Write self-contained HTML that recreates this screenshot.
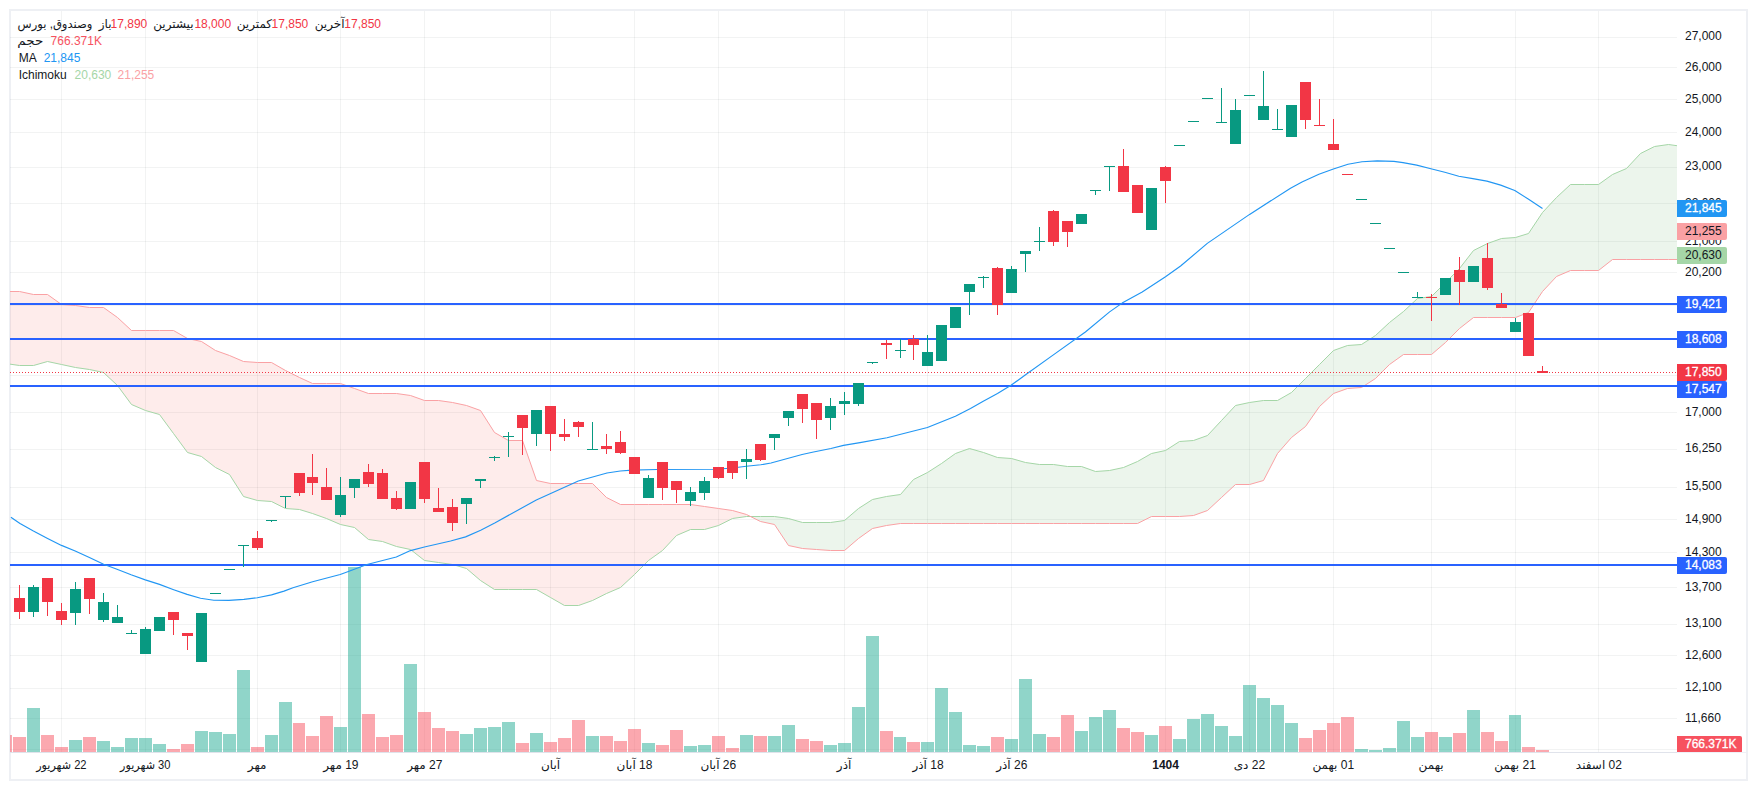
<!DOCTYPE html>
<html lang="fa"><head><meta charset="utf-8"><title>Chart</title>
<style>
html,body{margin:0;padding:0;background:#fff;}
body{width:1757px;height:790px;position:relative;overflow:hidden;font-family:"Liberation Sans","DejaVu Sans",sans-serif;}
.frame{position:absolute;left:9px;top:9px;width:1735px;height:768px;border:2px solid #eef0f4;}
</style></head><body>
<div class="frame"></div>
<svg width="1757" height="790" viewBox="0 0 1757 790" style="position:absolute;left:0;top:0">
<defs><clipPath id="pane"><rect x="10" y="11" width="1667" height="741"/></clipPath></defs>
<g shape-rendering="crispEdges" fill="rgba(42,46,57,0.06)">
<rect x="61" y="11" width="1" height="741"/>
<rect x="145" y="11" width="1" height="741"/>
<rect x="257" y="11" width="1" height="741"/>
<rect x="340" y="11" width="1" height="741"/>
<rect x="424" y="11" width="1" height="741"/>
<rect x="550" y="11" width="1" height="741"/>
<rect x="634" y="11" width="1" height="741"/>
<rect x="718" y="11" width="1" height="741"/>
<rect x="844" y="11" width="1" height="741"/>
<rect x="927" y="11" width="1" height="741"/>
<rect x="1011" y="11" width="1" height="741"/>
<rect x="1165" y="11" width="1" height="741"/>
<rect x="1249" y="11" width="1" height="741"/>
<rect x="1333" y="11" width="1" height="741"/>
<rect x="1431" y="11" width="1" height="741"/>
<rect x="1515" y="11" width="1" height="741"/>
<rect x="1598" y="11" width="1" height="741"/>
<rect x="10" y="37" width="1667" height="1"/>
<rect x="10" y="67" width="1667" height="1"/>
<rect x="10" y="99" width="1667" height="1"/>
<rect x="10" y="132" width="1667" height="1"/>
<rect x="10" y="167" width="1667" height="1"/>
<rect x="10" y="203" width="1667" height="1"/>
<rect x="10" y="241" width="1667" height="1"/>
<rect x="10" y="272" width="1667" height="1"/>
<rect x="10" y="305" width="1667" height="1"/>
<rect x="10" y="339" width="1667" height="1"/>
<rect x="10" y="375" width="1667" height="1"/>
<rect x="10" y="412" width="1667" height="1"/>
<rect x="10" y="449" width="1667" height="1"/>
<rect x="10" y="487" width="1667" height="1"/>
<rect x="10" y="519" width="1667" height="1"/>
<rect x="10" y="552" width="1667" height="1"/>
<rect x="10" y="587" width="1667" height="1"/>
<rect x="10" y="624" width="1667" height="1"/>
<rect x="10" y="655" width="1667" height="1"/>
<rect x="10" y="688" width="1667" height="1"/>
<rect x="10" y="718" width="1667" height="1"/>
<rect x="10" y="749" width="1667" height="1"/>
</g>
<g clip-path="url(#pane)">
<polygon points="5.5,363.5 19.5,365.5 33.5,365.5 47.5,361.5 61.5,364.5 75.5,367.5 89.5,369.5 103.5,372.5 117.5,385.5 131.5,404.5 145.5,410.5 159.5,414.5 173.5,433.5 187.5,452.5 201.5,456.5 215.5,467.5 229.5,474.5 243.5,496.5 257.5,500.5 271.5,501.5 285.5,508.5 299.5,509.5 312.5,513.5 326.5,518.5 340.5,524.5 354.5,527.5 368.5,539.5 382.5,541.5 396.5,546.5 410.5,549.5 424.5,560.5 438.5,562.5 452.5,564.5 466.5,568.5 480.5,580.5 494.5,589.5 508.5,589.5 522.5,589.5 536.5,589.5 550.5,597.5 564.5,605.5 578.5,605.5 592.5,600.5 606.5,593.5 620.5,587.5 634.5,574.5 648.5,560.5 662.5,550.5 676.5,535.5 690.5,529.5 704.5,529.5 718.5,525.5 732.5,518.5 746.5,516.5 750.5,516.5 746.5,514.5 732.5,510.5 718.5,508.5 704.5,506.5 690.5,504.5 676.5,504.5 662.5,504.5 648.5,504.5 634.5,504.5 620.5,504.5 606.5,497.5 592.5,483.5 578.5,483.5 564.5,483.5 550.5,483.5 536.5,480.5 522.5,440.5 508.5,440.5 494.5,432.5 480.5,410.5 466.5,405.5 452.5,402.5 438.5,400.5 424.5,400.5 410.5,395.5 396.5,393.5 382.5,393.5 368.5,393.5 354.5,388.5 340.5,383.5 326.5,383.5 312.5,383.5 299.5,377.5 285.5,370.5 271.5,362.5 257.5,362.5 243.5,361.5 229.5,355.5 215.5,350.5 201.5,341.5 187.5,338.5 173.5,330.5 159.5,330.5 145.5,330.5 131.5,330.5 117.5,317.5 103.5,307.5 89.5,307.5 75.5,305.5 61.5,304.5 47.5,294.5 33.5,294.5 19.5,291.5 5.5,291.5" fill="rgba(244,67,54,0.1)"/>
<polygon points="750.5,516.5 760.5,516.5 774.5,516.5 788.5,518.5 802.5,522.5 816.5,522.5 830.5,522.5 844.5,520.5 858.5,508.5 872.5,499.5 886.5,496.5 900.5,494.5 913.5,479.5 927.5,472.5 941.5,463.5 955.5,453.5 969.5,448.5 983.5,452.5 997.5,457.5 1011.5,458.5 1025.5,462.5 1039.5,464.5 1053.5,464.5 1067.5,466.5 1081.5,466.5 1095.5,471.5 1109.5,470.5 1123.5,467.5 1137.5,461.5 1151.5,453.5 1165.5,450.5 1179.5,441.5 1193.5,440.5 1207.5,435.5 1221.5,420.5 1235.5,405.5 1249.5,402.5 1263.5,400.5 1277.5,400.5 1291.5,392.5 1305.5,378.5 1319.5,364.5 1333.5,350.5 1347.5,345.5 1361.5,344.5 1375.5,335.5 1389.5,322.5 1403.5,311.5 1417.5,298.5 1431.5,296.5 1445.5,282.5 1459.5,268.5 1473.5,250.5 1487.5,243.5 1501.5,238.5 1515.5,237.5 1528.5,233.5 1542.5,212.5 1556.5,197.5 1570.5,184.5 1584.5,184.5 1598.5,184.5 1612.5,174.5 1626.5,168.5 1640.5,153.5 1654.5,146.5 1668.5,144.5 1682.5,146.5 1682.5,259.5 1668.5,259.5 1654.5,259.5 1640.5,259.5 1626.5,259.5 1612.5,259.5 1598.5,270.5 1584.5,270.5 1570.5,270.5 1556.5,276.5 1542.5,291.5 1528.5,312.5 1515.5,317.5 1501.5,317.5 1487.5,317.5 1473.5,317.5 1459.5,328.5 1445.5,342.5 1431.5,354.5 1417.5,354.5 1403.5,354.5 1389.5,364.5 1375.5,378.5 1361.5,387.5 1347.5,388.5 1333.5,393.5 1319.5,406.5 1305.5,426.5 1291.5,437.5 1277.5,453.5 1263.5,480.5 1249.5,484.5 1235.5,484.5 1221.5,497.5 1207.5,510.5 1193.5,515.5 1179.5,516.5 1165.5,516.5 1151.5,516.5 1137.5,523.5 1123.5,523.5 1109.5,523.5 1095.5,523.5 1081.5,523.5 1067.5,523.5 1053.5,523.5 1039.5,523.5 1025.5,523.5 1011.5,523.5 997.5,523.5 983.5,523.5 969.5,523.5 955.5,523.5 941.5,523.5 927.5,523.5 913.5,523.5 900.5,523.5 886.5,525.5 872.5,528.5 858.5,538.5 844.5,550.5 830.5,550.5 816.5,549.5 802.5,548.5 788.5,545.5 774.5,524.5 760.5,521.5" fill="rgba(67,160,71,0.1)"/>
<polyline points="5.5,363.5 19.5,365.5 33.5,365.5 47.5,361.5 61.5,364.5 75.5,367.5 89.5,369.5 103.5,372.5 117.5,385.5 131.5,404.5 145.5,410.5 159.5,414.5 173.5,433.5 187.5,452.5 201.5,456.5 215.5,467.5 229.5,474.5 243.5,496.5 257.5,500.5 271.5,501.5 285.5,508.5 299.5,509.5 312.5,513.5 326.5,518.5 340.5,524.5 354.5,527.5 368.5,539.5 382.5,541.5 396.5,546.5 410.5,549.5 424.5,560.5 438.5,562.5 452.5,564.5 466.5,568.5 480.5,580.5 494.5,589.5 508.5,589.5 522.5,589.5 536.5,589.5 550.5,597.5 564.5,605.5 578.5,605.5 592.5,600.5 606.5,593.5 620.5,587.5 634.5,574.5 648.5,560.5 662.5,550.5 676.5,535.5 690.5,529.5 704.5,529.5 718.5,525.5 732.5,518.5 746.5,516.5 760.5,516.5 774.5,516.5 788.5,518.5 802.5,522.5 816.5,522.5 830.5,522.5 844.5,520.5 858.5,508.5 872.5,499.5 886.5,496.5 900.5,494.5 913.5,479.5 927.5,472.5 941.5,463.5 955.5,453.5 969.5,448.5 983.5,452.5 997.5,457.5 1011.5,458.5 1025.5,462.5 1039.5,464.5 1053.5,464.5 1067.5,466.5 1081.5,466.5 1095.5,471.5 1109.5,470.5 1123.5,467.5 1137.5,461.5 1151.5,453.5 1165.5,450.5 1179.5,441.5 1193.5,440.5 1207.5,435.5 1221.5,420.5 1235.5,405.5 1249.5,402.5 1263.5,400.5 1277.5,400.5 1291.5,392.5 1305.5,378.5 1319.5,364.5 1333.5,350.5 1347.5,345.5 1361.5,344.5 1375.5,335.5 1389.5,322.5 1403.5,311.5 1417.5,298.5 1431.5,296.5 1445.5,282.5 1459.5,268.5 1473.5,250.5 1487.5,243.5 1501.5,238.5 1515.5,237.5 1528.5,233.5 1542.5,212.5 1556.5,197.5 1570.5,184.5 1584.5,184.5 1598.5,184.5 1612.5,174.5 1626.5,168.5 1640.5,153.5 1654.5,146.5 1668.5,144.5 1682.5,146.5" fill="none" stroke="#a5d6a7" stroke-width="1"/>
<polyline points="5.5,291.5 19.5,291.5 33.5,294.5 47.5,294.5 61.5,304.5 75.5,305.5 89.5,307.5 103.5,307.5 117.5,317.5 131.5,330.5 145.5,330.5 159.5,330.5 173.5,330.5 187.5,338.5 201.5,341.5 215.5,350.5 229.5,355.5 243.5,361.5 257.5,362.5 271.5,362.5 285.5,370.5 299.5,377.5 312.5,383.5 326.5,383.5 340.5,383.5 354.5,388.5 368.5,393.5 382.5,393.5 396.5,393.5 410.5,395.5 424.5,400.5 438.5,400.5 452.5,402.5 466.5,405.5 480.5,410.5 494.5,432.5 508.5,440.5 522.5,440.5 536.5,480.5 550.5,483.5 564.5,483.5 578.5,483.5 592.5,483.5 606.5,497.5 620.5,504.5 634.5,504.5 648.5,504.5 662.5,504.5 676.5,504.5 690.5,504.5 704.5,506.5 718.5,508.5 732.5,510.5 746.5,514.5 760.5,521.5 774.5,524.5 788.5,545.5 802.5,548.5 816.5,549.5 830.5,550.5 844.5,550.5 858.5,538.5 872.5,528.5 886.5,525.5 900.5,523.5 913.5,523.5 927.5,523.5 941.5,523.5 955.5,523.5 969.5,523.5 983.5,523.5 997.5,523.5 1011.5,523.5 1025.5,523.5 1039.5,523.5 1053.5,523.5 1067.5,523.5 1081.5,523.5 1095.5,523.5 1109.5,523.5 1123.5,523.5 1137.5,523.5 1151.5,516.5 1165.5,516.5 1179.5,516.5 1193.5,515.5 1207.5,510.5 1221.5,497.5 1235.5,484.5 1249.5,484.5 1263.5,480.5 1277.5,453.5 1291.5,437.5 1305.5,426.5 1319.5,406.5 1333.5,393.5 1347.5,388.5 1361.5,387.5 1375.5,378.5 1389.5,364.5 1403.5,354.5 1417.5,354.5 1431.5,354.5 1445.5,342.5 1459.5,328.5 1473.5,317.5 1487.5,317.5 1501.5,317.5 1515.5,317.5 1528.5,312.5 1542.5,291.5 1556.5,276.5 1570.5,270.5 1584.5,270.5 1598.5,270.5 1612.5,259.5 1626.5,259.5 1640.5,259.5 1654.5,259.5 1668.5,259.5 1682.5,259.5" fill="none" stroke="#faa1a4" stroke-width="1"/>
<g shape-rendering="crispEdges" fill="#2962ff">
<rect x="10" y="303" width="1667" height="2"/>
<rect x="10" y="338" width="1667" height="2"/>
<rect x="10" y="385" width="1667" height="2"/>
<rect x="10" y="564" width="1667" height="2"/>
</g>
<g shape-rendering="crispEdges">
<rect x="-1" y="735" width="13" height="17" fill="rgba(247,82,95,0.5)"/>
<rect x="13" y="737" width="13" height="15" fill="rgba(247,82,95,0.5)"/>
<rect x="27" y="708" width="13" height="44" fill="rgba(34,171,148,0.5)"/>
<rect x="41" y="735" width="13" height="17" fill="rgba(247,82,95,0.5)"/>
<rect x="55" y="747" width="13" height="5" fill="rgba(247,82,95,0.5)"/>
<rect x="69" y="740" width="13" height="12" fill="rgba(34,171,148,0.5)"/>
<rect x="83" y="737" width="13" height="15" fill="rgba(247,82,95,0.5)"/>
<rect x="97" y="741" width="13" height="11" fill="rgba(34,171,148,0.5)"/>
<rect x="111" y="747" width="13" height="5" fill="rgba(34,171,148,0.5)"/>
<rect x="125" y="738" width="13" height="14" fill="rgba(34,171,148,0.5)"/>
<rect x="139" y="738" width="13" height="14" fill="rgba(34,171,148,0.5)"/>
<rect x="153" y="744" width="13" height="8" fill="rgba(34,171,148,0.5)"/>
<rect x="167" y="749" width="13" height="3" fill="rgba(247,82,95,0.5)"/>
<rect x="181" y="744" width="13" height="8" fill="rgba(247,82,95,0.5)"/>
<rect x="195" y="731" width="13" height="21" fill="rgba(34,171,148,0.5)"/>
<rect x="209" y="732" width="13" height="20" fill="rgba(34,171,148,0.5)"/>
<rect x="223" y="734" width="13" height="18" fill="rgba(34,171,148,0.5)"/>
<rect x="237" y="670" width="13" height="82" fill="rgba(34,171,148,0.5)"/>
<rect x="251" y="747" width="13" height="5" fill="rgba(247,82,95,0.5)"/>
<rect x="265" y="735" width="13" height="17" fill="rgba(34,171,148,0.5)"/>
<rect x="279" y="702" width="13" height="50" fill="rgba(34,171,148,0.5)"/>
<rect x="293" y="723" width="12" height="29" fill="rgba(247,82,95,0.5)"/>
<rect x="306" y="736" width="13" height="16" fill="rgba(247,82,95,0.5)"/>
<rect x="320" y="716" width="13" height="36" fill="rgba(247,82,95,0.5)"/>
<rect x="334" y="727" width="13" height="25" fill="rgba(34,171,148,0.5)"/>
<rect x="348" y="567" width="13" height="185" fill="rgba(34,171,148,0.5)"/>
<rect x="362" y="714" width="13" height="38" fill="rgba(247,82,95,0.5)"/>
<rect x="376" y="737" width="13" height="15" fill="rgba(247,82,95,0.5)"/>
<rect x="390" y="735" width="13" height="17" fill="rgba(247,82,95,0.5)"/>
<rect x="404" y="664" width="13" height="88" fill="rgba(34,171,148,0.5)"/>
<rect x="418" y="712" width="13" height="40" fill="rgba(247,82,95,0.5)"/>
<rect x="432" y="728" width="13" height="24" fill="rgba(247,82,95,0.5)"/>
<rect x="446" y="731" width="13" height="21" fill="rgba(247,82,95,0.5)"/>
<rect x="460" y="734" width="13" height="18" fill="rgba(34,171,148,0.5)"/>
<rect x="474" y="728" width="13" height="24" fill="rgba(34,171,148,0.5)"/>
<rect x="488" y="727" width="13" height="25" fill="rgba(34,171,148,0.5)"/>
<rect x="502" y="722" width="13" height="30" fill="rgba(34,171,148,0.5)"/>
<rect x="516" y="743" width="13" height="9" fill="rgba(247,82,95,0.5)"/>
<rect x="530" y="733" width="13" height="19" fill="rgba(34,171,148,0.5)"/>
<rect x="544" y="742" width="13" height="10" fill="rgba(247,82,95,0.5)"/>
<rect x="558" y="738" width="13" height="14" fill="rgba(247,82,95,0.5)"/>
<rect x="572" y="720" width="13" height="32" fill="rgba(247,82,95,0.5)"/>
<rect x="586" y="736" width="13" height="16" fill="rgba(34,171,148,0.5)"/>
<rect x="600" y="736" width="13" height="16" fill="rgba(247,82,95,0.5)"/>
<rect x="614" y="741" width="13" height="11" fill="rgba(247,82,95,0.5)"/>
<rect x="628" y="729" width="13" height="23" fill="rgba(247,82,95,0.5)"/>
<rect x="642" y="743" width="13" height="9" fill="rgba(34,171,148,0.5)"/>
<rect x="656" y="745" width="13" height="7" fill="rgba(247,82,95,0.5)"/>
<rect x="670" y="730" width="13" height="22" fill="rgba(247,82,95,0.5)"/>
<rect x="684" y="746" width="13" height="6" fill="rgba(34,171,148,0.5)"/>
<rect x="698" y="745" width="13" height="7" fill="rgba(34,171,148,0.5)"/>
<rect x="712" y="736" width="13" height="16" fill="rgba(247,82,95,0.5)"/>
<rect x="726" y="748" width="13" height="4" fill="rgba(247,82,95,0.5)"/>
<rect x="740" y="735" width="13" height="17" fill="rgba(34,171,148,0.5)"/>
<rect x="754" y="736" width="13" height="16" fill="rgba(247,82,95,0.5)"/>
<rect x="768" y="736" width="13" height="16" fill="rgba(34,171,148,0.5)"/>
<rect x="782" y="725" width="13" height="27" fill="rgba(34,171,148,0.5)"/>
<rect x="796" y="739" width="13" height="13" fill="rgba(247,82,95,0.5)"/>
<rect x="810" y="741" width="13" height="11" fill="rgba(247,82,95,0.5)"/>
<rect x="824" y="745" width="13" height="7" fill="rgba(34,171,148,0.5)"/>
<rect x="838" y="743" width="13" height="9" fill="rgba(34,171,148,0.5)"/>
<rect x="852" y="707" width="13" height="45" fill="rgba(34,171,148,0.5)"/>
<rect x="866" y="636" width="13" height="116" fill="rgba(34,171,148,0.5)"/>
<rect x="880" y="731" width="13" height="21" fill="rgba(247,82,95,0.5)"/>
<rect x="894" y="737" width="12" height="15" fill="rgba(34,171,148,0.5)"/>
<rect x="907" y="742" width="13" height="10" fill="rgba(247,82,95,0.5)"/>
<rect x="921" y="742" width="13" height="10" fill="rgba(34,171,148,0.5)"/>
<rect x="935" y="688" width="13" height="64" fill="rgba(34,171,148,0.5)"/>
<rect x="949" y="712" width="13" height="40" fill="rgba(34,171,148,0.5)"/>
<rect x="963" y="745" width="13" height="7" fill="rgba(34,171,148,0.5)"/>
<rect x="977" y="746" width="13" height="6" fill="rgba(34,171,148,0.5)"/>
<rect x="991" y="737" width="13" height="15" fill="rgba(247,82,95,0.5)"/>
<rect x="1005" y="739" width="13" height="13" fill="rgba(34,171,148,0.5)"/>
<rect x="1019" y="679" width="13" height="73" fill="rgba(34,171,148,0.5)"/>
<rect x="1033" y="734" width="13" height="18" fill="rgba(34,171,148,0.5)"/>
<rect x="1047" y="737" width="13" height="15" fill="rgba(247,82,95,0.5)"/>
<rect x="1061" y="715" width="13" height="37" fill="rgba(247,82,95,0.5)"/>
<rect x="1075" y="731" width="13" height="21" fill="rgba(34,171,148,0.5)"/>
<rect x="1089" y="717" width="13" height="35" fill="rgba(34,171,148,0.5)"/>
<rect x="1103" y="710" width="13" height="42" fill="rgba(34,171,148,0.5)"/>
<rect x="1117" y="728" width="13" height="24" fill="rgba(247,82,95,0.5)"/>
<rect x="1131" y="732" width="13" height="20" fill="rgba(247,82,95,0.5)"/>
<rect x="1145" y="735" width="13" height="17" fill="rgba(34,171,148,0.5)"/>
<rect x="1159" y="726" width="13" height="26" fill="rgba(247,82,95,0.5)"/>
<rect x="1173" y="739" width="13" height="13" fill="rgba(34,171,148,0.5)"/>
<rect x="1187" y="719" width="13" height="33" fill="rgba(34,171,148,0.5)"/>
<rect x="1201" y="714" width="13" height="38" fill="rgba(34,171,148,0.5)"/>
<rect x="1215" y="726" width="13" height="26" fill="rgba(34,171,148,0.5)"/>
<rect x="1229" y="736" width="13" height="16" fill="rgba(34,171,148,0.5)"/>
<rect x="1243" y="685" width="13" height="67" fill="rgba(34,171,148,0.5)"/>
<rect x="1257" y="698" width="13" height="54" fill="rgba(34,171,148,0.5)"/>
<rect x="1271" y="705" width="13" height="47" fill="rgba(34,171,148,0.5)"/>
<rect x="1285" y="723" width="13" height="29" fill="rgba(34,171,148,0.5)"/>
<rect x="1299" y="738" width="13" height="14" fill="rgba(247,82,95,0.5)"/>
<rect x="1313" y="730" width="13" height="22" fill="rgba(247,82,95,0.5)"/>
<rect x="1327" y="723" width="13" height="29" fill="rgba(247,82,95,0.5)"/>
<rect x="1341" y="717" width="13" height="35" fill="rgba(247,82,95,0.5)"/>
<rect x="1355" y="749" width="13" height="3" fill="rgba(34,171,148,0.5)"/>
<rect x="1369" y="750" width="13" height="2" fill="rgba(34,171,148,0.5)"/>
<rect x="1383" y="748" width="13" height="4" fill="rgba(34,171,148,0.5)"/>
<rect x="1397" y="721" width="13" height="31" fill="rgba(34,171,148,0.5)"/>
<rect x="1411" y="737" width="13" height="15" fill="rgba(34,171,148,0.5)"/>
<rect x="1425" y="732" width="13" height="20" fill="rgba(247,82,95,0.5)"/>
<rect x="1439" y="737" width="13" height="15" fill="rgba(34,171,148,0.5)"/>
<rect x="1453" y="733" width="13" height="19" fill="rgba(247,82,95,0.5)"/>
<rect x="1467" y="710" width="13" height="42" fill="rgba(34,171,148,0.5)"/>
<rect x="1481" y="732" width="13" height="20" fill="rgba(247,82,95,0.5)"/>
<rect x="1495" y="741" width="13" height="11" fill="rgba(247,82,95,0.5)"/>
<rect x="1509" y="715" width="12" height="37" fill="rgba(34,171,148,0.5)"/>
<rect x="1522" y="747" width="13" height="5" fill="rgba(247,82,95,0.5)"/>
<rect x="1536" y="750" width="13" height="2" fill="rgba(247,82,95,0.5)"/>
</g>
<polyline points="10.9,517.2 20.0,523.4 33.4,530.9 47.6,538.4 61.5,545.4 75.2,551.0 89.4,557.6 103.6,564.3 117.0,569.3 131.1,574.8 145.3,579.9 159.5,584.4 173.7,589.7 187.1,594.4 200.5,598.2 213.8,600.2 228.9,600.4 243.9,599.4 257.3,597.7 271.5,594.9 284.0,591.1 293.0,587.7 312.6,581.8 340.2,574.5 347.0,572.0 367.0,564.5 396.3,557.0 410.5,550.6 424.4,547.0 450.6,541.0 465.6,536.9 480.7,530.2 495.2,522.7 536.3,500.0 578.3,481.0 607.0,473.0 620.3,471.0 632.0,470.1 657.0,469.5 713.9,469.2 730.6,468.2 746.3,466.2 760.7,464.8 771.0,463.0 802.1,454.5 813.5,452.0 830.9,448.5 843.5,445.4 860.0,442.6 887.0,437.8 927.4,427.5 955.4,416.2 970.5,408.5 982.8,401.5 997.5,393.6 1011.0,385.3 1027.3,373.5 1053.0,355.1 1085.4,332.0 1109.6,311.9 1122.1,303.1 1142.2,291.9 1165.5,276.8 1180.6,266.0 1207.3,243.4 1223.0,232.6 1249.6,214.4 1290.5,188.2 1302.0,182.0 1318.9,174.3 1333.4,169.0 1348.0,164.2 1362.0,161.8 1377.2,160.9 1393.9,161.4 1403.0,162.6 1416.7,165.1 1430.9,168.8 1444.8,172.3 1458.8,176.3 1472.8,178.6 1486.9,181.1 1500.7,185.1 1514.8,190.5 1528.6,199.3 1542.5,208.6" fill="none" stroke="#2196f3" stroke-width="1.15" stroke-linejoin="round"/>
<g shape-rendering="crispEdges">
<rect x="19" y="585" width="1" height="34" fill="#f23645"/>
<rect x="14" y="598" width="11" height="14" fill="#f23645"/>
<rect x="33" y="585" width="1" height="32" fill="#089981"/>
<rect x="28" y="587" width="11" height="25" fill="#089981"/>
<rect x="47" y="578" width="1" height="38" fill="#f23645"/>
<rect x="42" y="578" width="11" height="24" fill="#f23645"/>
<rect x="61" y="603" width="1" height="22" fill="#f23645"/>
<rect x="56" y="611" width="11" height="9" fill="#f23645"/>
<rect x="75" y="582" width="1" height="43" fill="#089981"/>
<rect x="70" y="589" width="11" height="24" fill="#089981"/>
<rect x="89" y="578" width="1" height="36" fill="#f23645"/>
<rect x="84" y="578" width="11" height="21" fill="#f23645"/>
<rect x="103" y="593" width="1" height="29" fill="#089981"/>
<rect x="98" y="602" width="11" height="18" fill="#089981"/>
<rect x="117" y="605" width="1" height="18" fill="#089981"/>
<rect x="112" y="617" width="11" height="6" fill="#089981"/>
<rect x="131" y="630" width="1" height="4" fill="#089981"/>
<rect x="126" y="633" width="11" height="1" fill="#089981"/>
<rect x="145" y="627" width="1" height="27" fill="#089981"/>
<rect x="140" y="629" width="11" height="25" fill="#089981"/>
<rect x="159" y="617" width="1" height="14" fill="#089981"/>
<rect x="154" y="617" width="11" height="14" fill="#089981"/>
<rect x="173" y="612" width="1" height="23" fill="#f23645"/>
<rect x="168" y="612" width="11" height="8" fill="#f23645"/>
<rect x="187" y="633" width="1" height="17" fill="#f23645"/>
<rect x="182" y="633" width="11" height="3" fill="#f23645"/>
<rect x="201" y="613" width="1" height="49" fill="#089981"/>
<rect x="196" y="613" width="11" height="49" fill="#089981"/>
<rect x="215" y="593" width="1" height="1" fill="#089981"/>
<rect x="210" y="593" width="11" height="1" fill="#089981"/>
<rect x="229" y="569" width="1" height="1" fill="#089981"/>
<rect x="224" y="569" width="11" height="1" fill="#089981"/>
<rect x="243" y="545" width="1" height="22" fill="#089981"/>
<rect x="238" y="545" width="11" height="1" fill="#089981"/>
<rect x="257" y="531" width="1" height="19" fill="#f23645"/>
<rect x="252" y="538" width="11" height="10" fill="#f23645"/>
<rect x="271" y="520" width="1" height="2" fill="#089981"/>
<rect x="266" y="520" width="11" height="1" fill="#089981"/>
<rect x="285" y="496" width="1" height="12" fill="#089981"/>
<rect x="280" y="496" width="11" height="1" fill="#089981"/>
<rect x="299" y="473" width="1" height="23" fill="#f23645"/>
<rect x="294" y="473" width="11" height="20" fill="#f23645"/>
<rect x="312" y="454" width="1" height="41" fill="#f23645"/>
<rect x="307" y="477" width="11" height="6" fill="#f23645"/>
<rect x="326" y="468" width="1" height="32" fill="#f23645"/>
<rect x="321" y="487" width="11" height="13" fill="#f23645"/>
<rect x="340" y="477" width="1" height="40" fill="#089981"/>
<rect x="335" y="495" width="11" height="20" fill="#089981"/>
<rect x="354" y="479" width="1" height="19" fill="#089981"/>
<rect x="349" y="479" width="11" height="9" fill="#089981"/>
<rect x="368" y="464" width="1" height="23" fill="#f23645"/>
<rect x="363" y="472" width="11" height="12" fill="#f23645"/>
<rect x="382" y="469" width="1" height="30" fill="#f23645"/>
<rect x="377" y="473" width="11" height="26" fill="#f23645"/>
<rect x="396" y="491" width="1" height="19" fill="#f23645"/>
<rect x="391" y="498" width="11" height="11" fill="#f23645"/>
<rect x="410" y="482" width="1" height="27" fill="#089981"/>
<rect x="405" y="482" width="11" height="27" fill="#089981"/>
<rect x="424" y="462" width="1" height="41" fill="#f23645"/>
<rect x="419" y="462" width="11" height="37" fill="#f23645"/>
<rect x="438" y="488" width="1" height="24" fill="#f23645"/>
<rect x="433" y="508" width="11" height="4" fill="#f23645"/>
<rect x="452" y="499" width="1" height="32" fill="#f23645"/>
<rect x="447" y="507" width="11" height="16" fill="#f23645"/>
<rect x="466" y="498" width="1" height="26" fill="#089981"/>
<rect x="461" y="498" width="11" height="6" fill="#089981"/>
<rect x="480" y="479" width="1" height="9" fill="#089981"/>
<rect x="475" y="479" width="11" height="2" fill="#089981"/>
<rect x="494" y="456" width="1" height="5" fill="#089981"/>
<rect x="489" y="457" width="11" height="1" fill="#089981"/>
<rect x="508" y="432" width="1" height="25" fill="#089981"/>
<rect x="503" y="436" width="11" height="1" fill="#089981"/>
<rect x="522" y="415" width="1" height="40" fill="#f23645"/>
<rect x="517" y="415" width="11" height="13" fill="#f23645"/>
<rect x="536" y="410" width="1" height="36" fill="#089981"/>
<rect x="531" y="410" width="11" height="24" fill="#089981"/>
<rect x="550" y="406" width="1" height="45" fill="#f23645"/>
<rect x="545" y="406" width="11" height="28" fill="#f23645"/>
<rect x="564" y="419" width="1" height="22" fill="#f23645"/>
<rect x="559" y="434" width="11" height="3" fill="#f23645"/>
<rect x="578" y="421" width="1" height="16" fill="#f23645"/>
<rect x="573" y="422" width="11" height="5" fill="#f23645"/>
<rect x="592" y="422" width="1" height="28" fill="#089981"/>
<rect x="587" y="449" width="11" height="1" fill="#089981"/>
<rect x="606" y="434" width="1" height="20" fill="#f23645"/>
<rect x="601" y="446" width="11" height="3" fill="#f23645"/>
<rect x="620" y="431" width="1" height="23" fill="#f23645"/>
<rect x="615" y="442" width="11" height="11" fill="#f23645"/>
<rect x="634" y="457" width="1" height="17" fill="#f23645"/>
<rect x="629" y="457" width="11" height="17" fill="#f23645"/>
<rect x="648" y="475" width="1" height="23" fill="#089981"/>
<rect x="643" y="478" width="11" height="20" fill="#089981"/>
<rect x="662" y="462" width="1" height="38" fill="#f23645"/>
<rect x="657" y="462" width="11" height="26" fill="#f23645"/>
<rect x="676" y="481" width="1" height="22" fill="#f23645"/>
<rect x="671" y="481" width="11" height="9" fill="#f23645"/>
<rect x="690" y="487" width="1" height="19" fill="#089981"/>
<rect x="685" y="492" width="11" height="9" fill="#089981"/>
<rect x="704" y="477" width="1" height="23" fill="#089981"/>
<rect x="699" y="481" width="11" height="12" fill="#089981"/>
<rect x="718" y="467" width="1" height="12" fill="#f23645"/>
<rect x="713" y="467" width="11" height="11" fill="#f23645"/>
<rect x="732" y="461" width="1" height="18" fill="#f23645"/>
<rect x="727" y="461" width="11" height="12" fill="#f23645"/>
<rect x="746" y="449" width="1" height="30" fill="#089981"/>
<rect x="741" y="459" width="11" height="3" fill="#089981"/>
<rect x="760" y="444" width="1" height="17" fill="#f23645"/>
<rect x="755" y="444" width="11" height="16" fill="#f23645"/>
<rect x="774" y="434" width="1" height="16" fill="#089981"/>
<rect x="769" y="434" width="11" height="4" fill="#089981"/>
<rect x="788" y="411" width="1" height="15" fill="#089981"/>
<rect x="783" y="411" width="11" height="7" fill="#089981"/>
<rect x="802" y="394" width="1" height="29" fill="#f23645"/>
<rect x="797" y="394" width="11" height="15" fill="#f23645"/>
<rect x="816" y="403" width="1" height="36" fill="#f23645"/>
<rect x="811" y="403" width="11" height="17" fill="#f23645"/>
<rect x="830" y="398" width="1" height="32" fill="#089981"/>
<rect x="825" y="406" width="11" height="12" fill="#089981"/>
<rect x="844" y="392" width="1" height="23" fill="#089981"/>
<rect x="839" y="401" width="11" height="3" fill="#089981"/>
<rect x="858" y="383" width="1" height="23" fill="#089981"/>
<rect x="853" y="383" width="11" height="21" fill="#089981"/>
<rect x="872" y="362" width="1" height="2" fill="#089981"/>
<rect x="867" y="362" width="11" height="1" fill="#089981"/>
<rect x="886" y="340" width="1" height="19" fill="#f23645"/>
<rect x="881" y="343" width="11" height="2" fill="#f23645"/>
<rect x="900" y="339" width="1" height="19" fill="#089981"/>
<rect x="895" y="350" width="11" height="1" fill="#089981"/>
<rect x="913" y="335" width="1" height="25" fill="#f23645"/>
<rect x="908" y="339" width="11" height="6" fill="#f23645"/>
<rect x="927" y="335" width="1" height="31" fill="#089981"/>
<rect x="922" y="352" width="11" height="14" fill="#089981"/>
<rect x="941" y="325" width="1" height="36" fill="#089981"/>
<rect x="936" y="325" width="11" height="36" fill="#089981"/>
<rect x="955" y="307" width="1" height="21" fill="#089981"/>
<rect x="950" y="307" width="11" height="21" fill="#089981"/>
<rect x="969" y="284" width="1" height="31" fill="#089981"/>
<rect x="964" y="284" width="11" height="8" fill="#089981"/>
<rect x="983" y="276" width="1" height="12" fill="#089981"/>
<rect x="978" y="277" width="11" height="1" fill="#089981"/>
<rect x="997" y="267" width="1" height="48" fill="#f23645"/>
<rect x="992" y="268" width="11" height="37" fill="#f23645"/>
<rect x="1011" y="266" width="1" height="27" fill="#089981"/>
<rect x="1006" y="269" width="11" height="24" fill="#089981"/>
<rect x="1025" y="251" width="1" height="21" fill="#089981"/>
<rect x="1020" y="251" width="11" height="3" fill="#089981"/>
<rect x="1039" y="227" width="1" height="24" fill="#089981"/>
<rect x="1034" y="241" width="11" height="1" fill="#089981"/>
<rect x="1053" y="210" width="1" height="36" fill="#f23645"/>
<rect x="1048" y="211" width="11" height="31" fill="#f23645"/>
<rect x="1067" y="221" width="1" height="26" fill="#f23645"/>
<rect x="1062" y="221" width="11" height="11" fill="#f23645"/>
<rect x="1081" y="214" width="1" height="10" fill="#089981"/>
<rect x="1076" y="214" width="11" height="10" fill="#089981"/>
<rect x="1095" y="190" width="1" height="5" fill="#089981"/>
<rect x="1090" y="190" width="11" height="1" fill="#089981"/>
<rect x="1109" y="166" width="1" height="25" fill="#089981"/>
<rect x="1104" y="166" width="11" height="1" fill="#089981"/>
<rect x="1123" y="149" width="1" height="43" fill="#f23645"/>
<rect x="1118" y="166" width="11" height="26" fill="#f23645"/>
<rect x="1137" y="185" width="1" height="28" fill="#f23645"/>
<rect x="1132" y="185" width="11" height="28" fill="#f23645"/>
<rect x="1151" y="188" width="1" height="42" fill="#089981"/>
<rect x="1146" y="188" width="11" height="42" fill="#089981"/>
<rect x="1165" y="166" width="1" height="37" fill="#f23645"/>
<rect x="1160" y="167" width="11" height="14" fill="#f23645"/>
<rect x="1179" y="145" width="1" height="1" fill="#089981"/>
<rect x="1174" y="145" width="11" height="1" fill="#089981"/>
<rect x="1193" y="121" width="1" height="1" fill="#089981"/>
<rect x="1188" y="121" width="11" height="1" fill="#089981"/>
<rect x="1207" y="98" width="1" height="1" fill="#089981"/>
<rect x="1202" y="98" width="11" height="1" fill="#089981"/>
<rect x="1221" y="88" width="1" height="35" fill="#089981"/>
<rect x="1216" y="122" width="11" height="1" fill="#089981"/>
<rect x="1235" y="99" width="1" height="45" fill="#089981"/>
<rect x="1230" y="110" width="11" height="34" fill="#089981"/>
<rect x="1249" y="95" width="1" height="1" fill="#089981"/>
<rect x="1244" y="95" width="11" height="1" fill="#089981"/>
<rect x="1263" y="71" width="1" height="49" fill="#089981"/>
<rect x="1258" y="106" width="11" height="14" fill="#089981"/>
<rect x="1277" y="109" width="1" height="21" fill="#089981"/>
<rect x="1272" y="129" width="11" height="1" fill="#089981"/>
<rect x="1291" y="105" width="1" height="32" fill="#089981"/>
<rect x="1286" y="105" width="11" height="32" fill="#089981"/>
<rect x="1305" y="82" width="1" height="47" fill="#f23645"/>
<rect x="1300" y="82" width="11" height="38" fill="#f23645"/>
<rect x="1319" y="99" width="1" height="27" fill="#f23645"/>
<rect x="1314" y="125" width="11" height="1" fill="#f23645"/>
<rect x="1333" y="119" width="1" height="31" fill="#f23645"/>
<rect x="1328" y="144" width="11" height="6" fill="#f23645"/>
<rect x="1347" y="174" width="1" height="1" fill="#f23645"/>
<rect x="1342" y="174" width="11" height="1" fill="#f23645"/>
<rect x="1361" y="199" width="1" height="1" fill="#089981"/>
<rect x="1356" y="199" width="11" height="1" fill="#089981"/>
<rect x="1375" y="223" width="1" height="1" fill="#089981"/>
<rect x="1370" y="223" width="11" height="1" fill="#089981"/>
<rect x="1389" y="248" width="1" height="1" fill="#089981"/>
<rect x="1384" y="248" width="11" height="1" fill="#089981"/>
<rect x="1403" y="272" width="1" height="1" fill="#089981"/>
<rect x="1398" y="272" width="11" height="1" fill="#089981"/>
<rect x="1417" y="292" width="1" height="6" fill="#089981"/>
<rect x="1412" y="297" width="11" height="1" fill="#089981"/>
<rect x="1431" y="294" width="1" height="27" fill="#f23645"/>
<rect x="1426" y="297" width="11" height="1" fill="#f23645"/>
<rect x="1445" y="278" width="1" height="17" fill="#089981"/>
<rect x="1440" y="278" width="11" height="17" fill="#089981"/>
<rect x="1459" y="257" width="1" height="48" fill="#f23645"/>
<rect x="1454" y="270" width="11" height="12" fill="#f23645"/>
<rect x="1473" y="266" width="1" height="16" fill="#089981"/>
<rect x="1468" y="266" width="11" height="16" fill="#089981"/>
<rect x="1487" y="243" width="1" height="47" fill="#f23645"/>
<rect x="1482" y="258" width="11" height="30" fill="#f23645"/>
<rect x="1501" y="293" width="1" height="15" fill="#f23645"/>
<rect x="1496" y="304" width="11" height="4" fill="#f23645"/>
<rect x="1515" y="318" width="1" height="14" fill="#089981"/>
<rect x="1510" y="322" width="11" height="10" fill="#089981"/>
<rect x="1528" y="313" width="1" height="43" fill="#f23645"/>
<rect x="1523" y="313" width="11" height="43" fill="#f23645"/>
<rect x="1542" y="366" width="1" height="7" fill="#f23645"/>
<rect x="1537" y="371" width="11" height="2" fill="#f23645"/>
</g>
<g shape-rendering="crispEdges" fill="#f23645">
<rect x="10" y="372" width="1" height="1"/><rect x="13" y="372" width="1" height="1"/><rect x="16" y="372" width="1" height="1"/><rect x="19" y="372" width="1" height="1"/><rect x="22" y="372" width="1" height="1"/><rect x="25" y="372" width="1" height="1"/><rect x="28" y="372" width="1" height="1"/><rect x="31" y="372" width="1" height="1"/><rect x="34" y="372" width="1" height="1"/><rect x="37" y="372" width="1" height="1"/><rect x="40" y="372" width="1" height="1"/><rect x="43" y="372" width="1" height="1"/><rect x="46" y="372" width="1" height="1"/><rect x="49" y="372" width="1" height="1"/><rect x="52" y="372" width="1" height="1"/><rect x="55" y="372" width="1" height="1"/><rect x="58" y="372" width="1" height="1"/><rect x="61" y="372" width="1" height="1"/><rect x="64" y="372" width="1" height="1"/><rect x="67" y="372" width="1" height="1"/><rect x="70" y="372" width="1" height="1"/><rect x="73" y="372" width="1" height="1"/><rect x="76" y="372" width="1" height="1"/><rect x="79" y="372" width="1" height="1"/><rect x="82" y="372" width="1" height="1"/><rect x="85" y="372" width="1" height="1"/><rect x="88" y="372" width="1" height="1"/><rect x="91" y="372" width="1" height="1"/><rect x="94" y="372" width="1" height="1"/><rect x="97" y="372" width="1" height="1"/><rect x="100" y="372" width="1" height="1"/><rect x="103" y="372" width="1" height="1"/><rect x="106" y="372" width="1" height="1"/><rect x="109" y="372" width="1" height="1"/><rect x="112" y="372" width="1" height="1"/><rect x="115" y="372" width="1" height="1"/><rect x="118" y="372" width="1" height="1"/><rect x="121" y="372" width="1" height="1"/><rect x="124" y="372" width="1" height="1"/><rect x="127" y="372" width="1" height="1"/><rect x="130" y="372" width="1" height="1"/><rect x="133" y="372" width="1" height="1"/><rect x="136" y="372" width="1" height="1"/><rect x="139" y="372" width="1" height="1"/><rect x="142" y="372" width="1" height="1"/><rect x="145" y="372" width="1" height="1"/><rect x="148" y="372" width="1" height="1"/><rect x="151" y="372" width="1" height="1"/><rect x="154" y="372" width="1" height="1"/><rect x="157" y="372" width="1" height="1"/><rect x="160" y="372" width="1" height="1"/><rect x="163" y="372" width="1" height="1"/><rect x="166" y="372" width="1" height="1"/><rect x="169" y="372" width="1" height="1"/><rect x="172" y="372" width="1" height="1"/><rect x="175" y="372" width="1" height="1"/><rect x="178" y="372" width="1" height="1"/><rect x="181" y="372" width="1" height="1"/><rect x="184" y="372" width="1" height="1"/><rect x="187" y="372" width="1" height="1"/><rect x="190" y="372" width="1" height="1"/><rect x="193" y="372" width="1" height="1"/><rect x="196" y="372" width="1" height="1"/><rect x="199" y="372" width="1" height="1"/><rect x="202" y="372" width="1" height="1"/><rect x="205" y="372" width="1" height="1"/><rect x="208" y="372" width="1" height="1"/><rect x="211" y="372" width="1" height="1"/><rect x="214" y="372" width="1" height="1"/><rect x="217" y="372" width="1" height="1"/><rect x="220" y="372" width="1" height="1"/><rect x="223" y="372" width="1" height="1"/><rect x="226" y="372" width="1" height="1"/><rect x="229" y="372" width="1" height="1"/><rect x="232" y="372" width="1" height="1"/><rect x="235" y="372" width="1" height="1"/><rect x="238" y="372" width="1" height="1"/><rect x="241" y="372" width="1" height="1"/><rect x="244" y="372" width="1" height="1"/><rect x="247" y="372" width="1" height="1"/><rect x="250" y="372" width="1" height="1"/><rect x="253" y="372" width="1" height="1"/><rect x="256" y="372" width="1" height="1"/><rect x="259" y="372" width="1" height="1"/><rect x="262" y="372" width="1" height="1"/><rect x="265" y="372" width="1" height="1"/><rect x="268" y="372" width="1" height="1"/><rect x="271" y="372" width="1" height="1"/><rect x="274" y="372" width="1" height="1"/><rect x="277" y="372" width="1" height="1"/><rect x="280" y="372" width="1" height="1"/><rect x="283" y="372" width="1" height="1"/><rect x="286" y="372" width="1" height="1"/><rect x="289" y="372" width="1" height="1"/><rect x="292" y="372" width="1" height="1"/><rect x="295" y="372" width="1" height="1"/><rect x="298" y="372" width="1" height="1"/><rect x="301" y="372" width="1" height="1"/><rect x="304" y="372" width="1" height="1"/><rect x="307" y="372" width="1" height="1"/><rect x="310" y="372" width="1" height="1"/><rect x="313" y="372" width="1" height="1"/><rect x="316" y="372" width="1" height="1"/><rect x="319" y="372" width="1" height="1"/><rect x="322" y="372" width="1" height="1"/><rect x="325" y="372" width="1" height="1"/><rect x="328" y="372" width="1" height="1"/><rect x="331" y="372" width="1" height="1"/><rect x="334" y="372" width="1" height="1"/><rect x="337" y="372" width="1" height="1"/><rect x="340" y="372" width="1" height="1"/><rect x="343" y="372" width="1" height="1"/><rect x="346" y="372" width="1" height="1"/><rect x="349" y="372" width="1" height="1"/><rect x="352" y="372" width="1" height="1"/><rect x="355" y="372" width="1" height="1"/><rect x="358" y="372" width="1" height="1"/><rect x="361" y="372" width="1" height="1"/><rect x="364" y="372" width="1" height="1"/><rect x="367" y="372" width="1" height="1"/><rect x="370" y="372" width="1" height="1"/><rect x="373" y="372" width="1" height="1"/><rect x="376" y="372" width="1" height="1"/><rect x="379" y="372" width="1" height="1"/><rect x="382" y="372" width="1" height="1"/><rect x="385" y="372" width="1" height="1"/><rect x="388" y="372" width="1" height="1"/><rect x="391" y="372" width="1" height="1"/><rect x="394" y="372" width="1" height="1"/><rect x="397" y="372" width="1" height="1"/><rect x="400" y="372" width="1" height="1"/><rect x="403" y="372" width="1" height="1"/><rect x="406" y="372" width="1" height="1"/><rect x="409" y="372" width="1" height="1"/><rect x="412" y="372" width="1" height="1"/><rect x="415" y="372" width="1" height="1"/><rect x="418" y="372" width="1" height="1"/><rect x="421" y="372" width="1" height="1"/><rect x="424" y="372" width="1" height="1"/><rect x="427" y="372" width="1" height="1"/><rect x="430" y="372" width="1" height="1"/><rect x="433" y="372" width="1" height="1"/><rect x="436" y="372" width="1" height="1"/><rect x="439" y="372" width="1" height="1"/><rect x="442" y="372" width="1" height="1"/><rect x="445" y="372" width="1" height="1"/><rect x="448" y="372" width="1" height="1"/><rect x="451" y="372" width="1" height="1"/><rect x="454" y="372" width="1" height="1"/><rect x="457" y="372" width="1" height="1"/><rect x="460" y="372" width="1" height="1"/><rect x="463" y="372" width="1" height="1"/><rect x="466" y="372" width="1" height="1"/><rect x="469" y="372" width="1" height="1"/><rect x="472" y="372" width="1" height="1"/><rect x="475" y="372" width="1" height="1"/><rect x="478" y="372" width="1" height="1"/><rect x="481" y="372" width="1" height="1"/><rect x="484" y="372" width="1" height="1"/><rect x="487" y="372" width="1" height="1"/><rect x="490" y="372" width="1" height="1"/><rect x="493" y="372" width="1" height="1"/><rect x="496" y="372" width="1" height="1"/><rect x="499" y="372" width="1" height="1"/><rect x="502" y="372" width="1" height="1"/><rect x="505" y="372" width="1" height="1"/><rect x="508" y="372" width="1" height="1"/><rect x="511" y="372" width="1" height="1"/><rect x="514" y="372" width="1" height="1"/><rect x="517" y="372" width="1" height="1"/><rect x="520" y="372" width="1" height="1"/><rect x="523" y="372" width="1" height="1"/><rect x="526" y="372" width="1" height="1"/><rect x="529" y="372" width="1" height="1"/><rect x="532" y="372" width="1" height="1"/><rect x="535" y="372" width="1" height="1"/><rect x="538" y="372" width="1" height="1"/><rect x="541" y="372" width="1" height="1"/><rect x="544" y="372" width="1" height="1"/><rect x="547" y="372" width="1" height="1"/><rect x="550" y="372" width="1" height="1"/><rect x="553" y="372" width="1" height="1"/><rect x="556" y="372" width="1" height="1"/><rect x="559" y="372" width="1" height="1"/><rect x="562" y="372" width="1" height="1"/><rect x="565" y="372" width="1" height="1"/><rect x="568" y="372" width="1" height="1"/><rect x="571" y="372" width="1" height="1"/><rect x="574" y="372" width="1" height="1"/><rect x="577" y="372" width="1" height="1"/><rect x="580" y="372" width="1" height="1"/><rect x="583" y="372" width="1" height="1"/><rect x="586" y="372" width="1" height="1"/><rect x="589" y="372" width="1" height="1"/><rect x="592" y="372" width="1" height="1"/><rect x="595" y="372" width="1" height="1"/><rect x="598" y="372" width="1" height="1"/><rect x="601" y="372" width="1" height="1"/><rect x="604" y="372" width="1" height="1"/><rect x="607" y="372" width="1" height="1"/><rect x="610" y="372" width="1" height="1"/><rect x="613" y="372" width="1" height="1"/><rect x="616" y="372" width="1" height="1"/><rect x="619" y="372" width="1" height="1"/><rect x="622" y="372" width="1" height="1"/><rect x="625" y="372" width="1" height="1"/><rect x="628" y="372" width="1" height="1"/><rect x="631" y="372" width="1" height="1"/><rect x="634" y="372" width="1" height="1"/><rect x="637" y="372" width="1" height="1"/><rect x="640" y="372" width="1" height="1"/><rect x="643" y="372" width="1" height="1"/><rect x="646" y="372" width="1" height="1"/><rect x="649" y="372" width="1" height="1"/><rect x="652" y="372" width="1" height="1"/><rect x="655" y="372" width="1" height="1"/><rect x="658" y="372" width="1" height="1"/><rect x="661" y="372" width="1" height="1"/><rect x="664" y="372" width="1" height="1"/><rect x="667" y="372" width="1" height="1"/><rect x="670" y="372" width="1" height="1"/><rect x="673" y="372" width="1" height="1"/><rect x="676" y="372" width="1" height="1"/><rect x="679" y="372" width="1" height="1"/><rect x="682" y="372" width="1" height="1"/><rect x="685" y="372" width="1" height="1"/><rect x="688" y="372" width="1" height="1"/><rect x="691" y="372" width="1" height="1"/><rect x="694" y="372" width="1" height="1"/><rect x="697" y="372" width="1" height="1"/><rect x="700" y="372" width="1" height="1"/><rect x="703" y="372" width="1" height="1"/><rect x="706" y="372" width="1" height="1"/><rect x="709" y="372" width="1" height="1"/><rect x="712" y="372" width="1" height="1"/><rect x="715" y="372" width="1" height="1"/><rect x="718" y="372" width="1" height="1"/><rect x="721" y="372" width="1" height="1"/><rect x="724" y="372" width="1" height="1"/><rect x="727" y="372" width="1" height="1"/><rect x="730" y="372" width="1" height="1"/><rect x="733" y="372" width="1" height="1"/><rect x="736" y="372" width="1" height="1"/><rect x="739" y="372" width="1" height="1"/><rect x="742" y="372" width="1" height="1"/><rect x="745" y="372" width="1" height="1"/><rect x="748" y="372" width="1" height="1"/><rect x="751" y="372" width="1" height="1"/><rect x="754" y="372" width="1" height="1"/><rect x="757" y="372" width="1" height="1"/><rect x="760" y="372" width="1" height="1"/><rect x="763" y="372" width="1" height="1"/><rect x="766" y="372" width="1" height="1"/><rect x="769" y="372" width="1" height="1"/><rect x="772" y="372" width="1" height="1"/><rect x="775" y="372" width="1" height="1"/><rect x="778" y="372" width="1" height="1"/><rect x="781" y="372" width="1" height="1"/><rect x="784" y="372" width="1" height="1"/><rect x="787" y="372" width="1" height="1"/><rect x="790" y="372" width="1" height="1"/><rect x="793" y="372" width="1" height="1"/><rect x="796" y="372" width="1" height="1"/><rect x="799" y="372" width="1" height="1"/><rect x="802" y="372" width="1" height="1"/><rect x="805" y="372" width="1" height="1"/><rect x="808" y="372" width="1" height="1"/><rect x="811" y="372" width="1" height="1"/><rect x="814" y="372" width="1" height="1"/><rect x="817" y="372" width="1" height="1"/><rect x="820" y="372" width="1" height="1"/><rect x="823" y="372" width="1" height="1"/><rect x="826" y="372" width="1" height="1"/><rect x="829" y="372" width="1" height="1"/><rect x="832" y="372" width="1" height="1"/><rect x="835" y="372" width="1" height="1"/><rect x="838" y="372" width="1" height="1"/><rect x="841" y="372" width="1" height="1"/><rect x="844" y="372" width="1" height="1"/><rect x="847" y="372" width="1" height="1"/><rect x="850" y="372" width="1" height="1"/><rect x="853" y="372" width="1" height="1"/><rect x="856" y="372" width="1" height="1"/><rect x="859" y="372" width="1" height="1"/><rect x="862" y="372" width="1" height="1"/><rect x="865" y="372" width="1" height="1"/><rect x="868" y="372" width="1" height="1"/><rect x="871" y="372" width="1" height="1"/><rect x="874" y="372" width="1" height="1"/><rect x="877" y="372" width="1" height="1"/><rect x="880" y="372" width="1" height="1"/><rect x="883" y="372" width="1" height="1"/><rect x="886" y="372" width="1" height="1"/><rect x="889" y="372" width="1" height="1"/><rect x="892" y="372" width="1" height="1"/><rect x="895" y="372" width="1" height="1"/><rect x="898" y="372" width="1" height="1"/><rect x="901" y="372" width="1" height="1"/><rect x="904" y="372" width="1" height="1"/><rect x="907" y="372" width="1" height="1"/><rect x="910" y="372" width="1" height="1"/><rect x="913" y="372" width="1" height="1"/><rect x="916" y="372" width="1" height="1"/><rect x="919" y="372" width="1" height="1"/><rect x="922" y="372" width="1" height="1"/><rect x="925" y="372" width="1" height="1"/><rect x="928" y="372" width="1" height="1"/><rect x="931" y="372" width="1" height="1"/><rect x="934" y="372" width="1" height="1"/><rect x="937" y="372" width="1" height="1"/><rect x="940" y="372" width="1" height="1"/><rect x="943" y="372" width="1" height="1"/><rect x="946" y="372" width="1" height="1"/><rect x="949" y="372" width="1" height="1"/><rect x="952" y="372" width="1" height="1"/><rect x="955" y="372" width="1" height="1"/><rect x="958" y="372" width="1" height="1"/><rect x="961" y="372" width="1" height="1"/><rect x="964" y="372" width="1" height="1"/><rect x="967" y="372" width="1" height="1"/><rect x="970" y="372" width="1" height="1"/><rect x="973" y="372" width="1" height="1"/><rect x="976" y="372" width="1" height="1"/><rect x="979" y="372" width="1" height="1"/><rect x="982" y="372" width="1" height="1"/><rect x="985" y="372" width="1" height="1"/><rect x="988" y="372" width="1" height="1"/><rect x="991" y="372" width="1" height="1"/><rect x="994" y="372" width="1" height="1"/><rect x="997" y="372" width="1" height="1"/><rect x="1000" y="372" width="1" height="1"/><rect x="1003" y="372" width="1" height="1"/><rect x="1006" y="372" width="1" height="1"/><rect x="1009" y="372" width="1" height="1"/><rect x="1012" y="372" width="1" height="1"/><rect x="1015" y="372" width="1" height="1"/><rect x="1018" y="372" width="1" height="1"/><rect x="1021" y="372" width="1" height="1"/><rect x="1024" y="372" width="1" height="1"/><rect x="1027" y="372" width="1" height="1"/><rect x="1030" y="372" width="1" height="1"/><rect x="1033" y="372" width="1" height="1"/><rect x="1036" y="372" width="1" height="1"/><rect x="1039" y="372" width="1" height="1"/><rect x="1042" y="372" width="1" height="1"/><rect x="1045" y="372" width="1" height="1"/><rect x="1048" y="372" width="1" height="1"/><rect x="1051" y="372" width="1" height="1"/><rect x="1054" y="372" width="1" height="1"/><rect x="1057" y="372" width="1" height="1"/><rect x="1060" y="372" width="1" height="1"/><rect x="1063" y="372" width="1" height="1"/><rect x="1066" y="372" width="1" height="1"/><rect x="1069" y="372" width="1" height="1"/><rect x="1072" y="372" width="1" height="1"/><rect x="1075" y="372" width="1" height="1"/><rect x="1078" y="372" width="1" height="1"/><rect x="1081" y="372" width="1" height="1"/><rect x="1084" y="372" width="1" height="1"/><rect x="1087" y="372" width="1" height="1"/><rect x="1090" y="372" width="1" height="1"/><rect x="1093" y="372" width="1" height="1"/><rect x="1096" y="372" width="1" height="1"/><rect x="1099" y="372" width="1" height="1"/><rect x="1102" y="372" width="1" height="1"/><rect x="1105" y="372" width="1" height="1"/><rect x="1108" y="372" width="1" height="1"/><rect x="1111" y="372" width="1" height="1"/><rect x="1114" y="372" width="1" height="1"/><rect x="1117" y="372" width="1" height="1"/><rect x="1120" y="372" width="1" height="1"/><rect x="1123" y="372" width="1" height="1"/><rect x="1126" y="372" width="1" height="1"/><rect x="1129" y="372" width="1" height="1"/><rect x="1132" y="372" width="1" height="1"/><rect x="1135" y="372" width="1" height="1"/><rect x="1138" y="372" width="1" height="1"/><rect x="1141" y="372" width="1" height="1"/><rect x="1144" y="372" width="1" height="1"/><rect x="1147" y="372" width="1" height="1"/><rect x="1150" y="372" width="1" height="1"/><rect x="1153" y="372" width="1" height="1"/><rect x="1156" y="372" width="1" height="1"/><rect x="1159" y="372" width="1" height="1"/><rect x="1162" y="372" width="1" height="1"/><rect x="1165" y="372" width="1" height="1"/><rect x="1168" y="372" width="1" height="1"/><rect x="1171" y="372" width="1" height="1"/><rect x="1174" y="372" width="1" height="1"/><rect x="1177" y="372" width="1" height="1"/><rect x="1180" y="372" width="1" height="1"/><rect x="1183" y="372" width="1" height="1"/><rect x="1186" y="372" width="1" height="1"/><rect x="1189" y="372" width="1" height="1"/><rect x="1192" y="372" width="1" height="1"/><rect x="1195" y="372" width="1" height="1"/><rect x="1198" y="372" width="1" height="1"/><rect x="1201" y="372" width="1" height="1"/><rect x="1204" y="372" width="1" height="1"/><rect x="1207" y="372" width="1" height="1"/><rect x="1210" y="372" width="1" height="1"/><rect x="1213" y="372" width="1" height="1"/><rect x="1216" y="372" width="1" height="1"/><rect x="1219" y="372" width="1" height="1"/><rect x="1222" y="372" width="1" height="1"/><rect x="1225" y="372" width="1" height="1"/><rect x="1228" y="372" width="1" height="1"/><rect x="1231" y="372" width="1" height="1"/><rect x="1234" y="372" width="1" height="1"/><rect x="1237" y="372" width="1" height="1"/><rect x="1240" y="372" width="1" height="1"/><rect x="1243" y="372" width="1" height="1"/><rect x="1246" y="372" width="1" height="1"/><rect x="1249" y="372" width="1" height="1"/><rect x="1252" y="372" width="1" height="1"/><rect x="1255" y="372" width="1" height="1"/><rect x="1258" y="372" width="1" height="1"/><rect x="1261" y="372" width="1" height="1"/><rect x="1264" y="372" width="1" height="1"/><rect x="1267" y="372" width="1" height="1"/><rect x="1270" y="372" width="1" height="1"/><rect x="1273" y="372" width="1" height="1"/><rect x="1276" y="372" width="1" height="1"/><rect x="1279" y="372" width="1" height="1"/><rect x="1282" y="372" width="1" height="1"/><rect x="1285" y="372" width="1" height="1"/><rect x="1288" y="372" width="1" height="1"/><rect x="1291" y="372" width="1" height="1"/><rect x="1294" y="372" width="1" height="1"/><rect x="1297" y="372" width="1" height="1"/><rect x="1300" y="372" width="1" height="1"/><rect x="1303" y="372" width="1" height="1"/><rect x="1306" y="372" width="1" height="1"/><rect x="1309" y="372" width="1" height="1"/><rect x="1312" y="372" width="1" height="1"/><rect x="1315" y="372" width="1" height="1"/><rect x="1318" y="372" width="1" height="1"/><rect x="1321" y="372" width="1" height="1"/><rect x="1324" y="372" width="1" height="1"/><rect x="1327" y="372" width="1" height="1"/><rect x="1330" y="372" width="1" height="1"/><rect x="1333" y="372" width="1" height="1"/><rect x="1336" y="372" width="1" height="1"/><rect x="1339" y="372" width="1" height="1"/><rect x="1342" y="372" width="1" height="1"/><rect x="1345" y="372" width="1" height="1"/><rect x="1348" y="372" width="1" height="1"/><rect x="1351" y="372" width="1" height="1"/><rect x="1354" y="372" width="1" height="1"/><rect x="1357" y="372" width="1" height="1"/><rect x="1360" y="372" width="1" height="1"/><rect x="1363" y="372" width="1" height="1"/><rect x="1366" y="372" width="1" height="1"/><rect x="1369" y="372" width="1" height="1"/><rect x="1372" y="372" width="1" height="1"/><rect x="1375" y="372" width="1" height="1"/><rect x="1378" y="372" width="1" height="1"/><rect x="1381" y="372" width="1" height="1"/><rect x="1384" y="372" width="1" height="1"/><rect x="1387" y="372" width="1" height="1"/><rect x="1390" y="372" width="1" height="1"/><rect x="1393" y="372" width="1" height="1"/><rect x="1396" y="372" width="1" height="1"/><rect x="1399" y="372" width="1" height="1"/><rect x="1402" y="372" width="1" height="1"/><rect x="1405" y="372" width="1" height="1"/><rect x="1408" y="372" width="1" height="1"/><rect x="1411" y="372" width="1" height="1"/><rect x="1414" y="372" width="1" height="1"/><rect x="1417" y="372" width="1" height="1"/><rect x="1420" y="372" width="1" height="1"/><rect x="1423" y="372" width="1" height="1"/><rect x="1426" y="372" width="1" height="1"/><rect x="1429" y="372" width="1" height="1"/><rect x="1432" y="372" width="1" height="1"/><rect x="1435" y="372" width="1" height="1"/><rect x="1438" y="372" width="1" height="1"/><rect x="1441" y="372" width="1" height="1"/><rect x="1444" y="372" width="1" height="1"/><rect x="1447" y="372" width="1" height="1"/><rect x="1450" y="372" width="1" height="1"/><rect x="1453" y="372" width="1" height="1"/><rect x="1456" y="372" width="1" height="1"/><rect x="1459" y="372" width="1" height="1"/><rect x="1462" y="372" width="1" height="1"/><rect x="1465" y="372" width="1" height="1"/><rect x="1468" y="372" width="1" height="1"/><rect x="1471" y="372" width="1" height="1"/><rect x="1474" y="372" width="1" height="1"/><rect x="1477" y="372" width="1" height="1"/><rect x="1480" y="372" width="1" height="1"/><rect x="1483" y="372" width="1" height="1"/><rect x="1486" y="372" width="1" height="1"/><rect x="1489" y="372" width="1" height="1"/><rect x="1492" y="372" width="1" height="1"/><rect x="1495" y="372" width="1" height="1"/><rect x="1498" y="372" width="1" height="1"/><rect x="1501" y="372" width="1" height="1"/><rect x="1504" y="372" width="1" height="1"/><rect x="1507" y="372" width="1" height="1"/><rect x="1510" y="372" width="1" height="1"/><rect x="1513" y="372" width="1" height="1"/><rect x="1516" y="372" width="1" height="1"/><rect x="1519" y="372" width="1" height="1"/><rect x="1522" y="372" width="1" height="1"/><rect x="1525" y="372" width="1" height="1"/><rect x="1528" y="372" width="1" height="1"/><rect x="1531" y="372" width="1" height="1"/><rect x="1534" y="372" width="1" height="1"/><rect x="1537" y="372" width="1" height="1"/><rect x="1540" y="372" width="1" height="1"/><rect x="1543" y="372" width="1" height="1"/><rect x="1546" y="372" width="1" height="1"/><rect x="1549" y="372" width="1" height="1"/><rect x="1552" y="372" width="1" height="1"/><rect x="1555" y="372" width="1" height="1"/><rect x="1558" y="372" width="1" height="1"/><rect x="1561" y="372" width="1" height="1"/><rect x="1564" y="372" width="1" height="1"/><rect x="1567" y="372" width="1" height="1"/><rect x="1570" y="372" width="1" height="1"/><rect x="1573" y="372" width="1" height="1"/><rect x="1576" y="372" width="1" height="1"/><rect x="1579" y="372" width="1" height="1"/><rect x="1582" y="372" width="1" height="1"/><rect x="1585" y="372" width="1" height="1"/><rect x="1588" y="372" width="1" height="1"/><rect x="1591" y="372" width="1" height="1"/><rect x="1594" y="372" width="1" height="1"/><rect x="1597" y="372" width="1" height="1"/><rect x="1600" y="372" width="1" height="1"/><rect x="1603" y="372" width="1" height="1"/><rect x="1606" y="372" width="1" height="1"/><rect x="1609" y="372" width="1" height="1"/><rect x="1612" y="372" width="1" height="1"/><rect x="1615" y="372" width="1" height="1"/><rect x="1618" y="372" width="1" height="1"/><rect x="1621" y="372" width="1" height="1"/><rect x="1624" y="372" width="1" height="1"/><rect x="1627" y="372" width="1" height="1"/><rect x="1630" y="372" width="1" height="1"/><rect x="1633" y="372" width="1" height="1"/><rect x="1636" y="372" width="1" height="1"/><rect x="1639" y="372" width="1" height="1"/><rect x="1642" y="372" width="1" height="1"/><rect x="1645" y="372" width="1" height="1"/><rect x="1648" y="372" width="1" height="1"/><rect x="1651" y="372" width="1" height="1"/><rect x="1654" y="372" width="1" height="1"/><rect x="1657" y="372" width="1" height="1"/><rect x="1660" y="372" width="1" height="1"/><rect x="1663" y="372" width="1" height="1"/><rect x="1666" y="372" width="1" height="1"/><rect x="1669" y="372" width="1" height="1"/><rect x="1672" y="372" width="1" height="1"/><rect x="1675" y="372" width="1" height="1"/>
</g>
</g>
<rect x="10" y="752" width="1667" height="1" fill="#e0e3eb" shape-rendering="crispEdges"/>
<rect x="1677" y="752" width="69" height="1" fill="#eef1f7" shape-rendering="crispEdges"/>
<g font-family="Liberation Sans, DejaVu Sans, sans-serif" font-size="12" fill="#131722">
<text x="1685" y="39.9">27,000</text>
<text x="1685" y="71.1">26,000</text>
<text x="1685" y="102.9">25,000</text>
<text x="1685" y="135.9">24,000</text>
<text x="1685" y="169.7">23,000</text>
<text x="1685" y="206.8">22,000</text>
<text x="1685" y="244.7">21,000</text>
<text x="1685" y="275.9">20,200</text>
<text x="1685" y="415.9">17,000</text>
<text x="1685" y="451.7">16,250</text>
<text x="1685" y="489.7">15,500</text>
<text x="1685" y="522.8">14,900</text>
<text x="1685" y="555.9">14,300</text>
<text x="1685" y="590.8">13,700</text>
<text x="1685" y="626.7">13,100</text>
<text x="1685" y="659.2">12,600</text>
<text x="1685" y="690.9">12,100</text>
<text x="1685" y="721.9">11,660</text>
</g>
<path d="M1677,200h48a2,2 0 0 1 2,2v13a2,2 0 0 1 -2,2h-48z" fill="#2196f3"/>
<text x="1685" y="211.9" font-family="Liberation Sans, DejaVu Sans, sans-serif" font-size="12" fill="#fff" font-weight="normal" stroke="#fff" stroke-width="0.3">21,845</text>
<path d="M1677,223h48a2,2 0 0 1 2,2v13a2,2 0 0 1 -2,2h-48z" fill="#faa1a4"/>
<text x="1685" y="234.9" font-family="Liberation Sans, DejaVu Sans, sans-serif" font-size="12" fill="#131722" font-weight="normal">21,255</text>
<path d="M1677,247h48a2,2 0 0 1 2,2v13a2,2 0 0 1 -2,2h-48z" fill="#a5d6a7"/>
<text x="1685" y="258.9" font-family="Liberation Sans, DejaVu Sans, sans-serif" font-size="12" fill="#131722" font-weight="normal">20,630</text>
<path d="M1677,296h48a2,2 0 0 1 2,2v13a2,2 0 0 1 -2,2h-48z" fill="#2962ff"/>
<text x="1685" y="307.9" font-family="Liberation Sans, DejaVu Sans, sans-serif" font-size="12" fill="#fff" font-weight="normal" stroke="#fff" stroke-width="0.3">19,421</text>
<path d="M1677,331h48a2,2 0 0 1 2,2v13a2,2 0 0 1 -2,2h-48z" fill="#2962ff"/>
<text x="1685" y="342.9" font-family="Liberation Sans, DejaVu Sans, sans-serif" font-size="12" fill="#fff" font-weight="normal" stroke="#fff" stroke-width="0.3">18,608</text>
<path d="M1677,364h48a2,2 0 0 1 2,2v13a2,2 0 0 1 -2,2h-48z" fill="#f23645"/>
<text x="1685" y="375.9" font-family="Liberation Sans, DejaVu Sans, sans-serif" font-size="12" fill="#fff" font-weight="normal" stroke="#fff" stroke-width="0.3">17,850</text>
<path d="M1677,381h48a2,2 0 0 1 2,2v13a2,2 0 0 1 -2,2h-48z" fill="#2962ff"/>
<text x="1685" y="392.9" font-family="Liberation Sans, DejaVu Sans, sans-serif" font-size="12" fill="#fff" font-weight="normal" stroke="#fff" stroke-width="0.3">17,547</text>
<path d="M1677,557h48a2,2 0 0 1 2,2v13a2,2 0 0 1 -2,2h-48z" fill="#2962ff"/>
<text x="1685" y="568.9" font-family="Liberation Sans, DejaVu Sans, sans-serif" font-size="12" fill="#fff" font-weight="normal" stroke="#fff" stroke-width="0.3">14,083</text>
<defs><clipPath id="vclip"><rect x="1677" y="700" width="80" height="52"/></clipPath></defs><g clip-path="url(#vclip)">
<path d="M1677,736h63a2,2 0 0 1 2,2v13a2,2 0 0 1 -2,2h-63z" fill="#f7525f"/>
<text x="1685" y="747.9" font-family="Liberation Sans, DejaVu Sans, sans-serif" font-size="12" fill="#fff" font-weight="normal" stroke="#fff" stroke-width="0.3">766.371K</text>
</g>
<g font-family="Liberation Sans, DejaVu Sans, sans-serif" font-size="12" fill="#131722" text-anchor="middle">
<text x="61.4" y="768.8" direction="rtl" unicode-bidi="plaintext" textLength="50.4" lengthAdjust="spacingAndGlyphs">22 شهریور</text>
<text x="145.3" y="768.8" direction="rtl" unicode-bidi="plaintext" textLength="50.4" lengthAdjust="spacingAndGlyphs">30 شهریور</text>
<text x="257.1" y="768.8" direction="rtl" unicode-bidi="plaintext">مهر</text>
<text x="340.9" y="768.8" direction="rtl" unicode-bidi="plaintext">19 مهر</text>
<text x="424.8" y="768.8" direction="rtl" unicode-bidi="plaintext">27 مهر</text>
<text x="550.6" y="768.8" direction="rtl" unicode-bidi="plaintext">آبان</text>
<text x="634.5" y="768.8" direction="rtl" unicode-bidi="plaintext">18 آبان</text>
<text x="718.3" y="768.8" direction="rtl" unicode-bidi="plaintext">26 آبان</text>
<text x="844.1" y="768.8" direction="rtl" unicode-bidi="plaintext">آذر</text>
<text x="928.0" y="768.8" direction="rtl" unicode-bidi="plaintext">18 آذر</text>
<text x="1011.8" y="768.8" direction="rtl" unicode-bidi="plaintext">26 آذر</text>
<text x="1165.6" y="768.8" direction="rtl" unicode-bidi="plaintext" font-weight="bold">1404</text>
<text x="1249.4" y="768.8" direction="rtl" unicode-bidi="plaintext">22 دی</text>
<text x="1333.3" y="768.8" direction="rtl" unicode-bidi="plaintext">01 بهمن</text>
<text x="1431.1" y="768.8" direction="rtl" unicode-bidi="plaintext">بهمن</text>
<text x="1515.0" y="768.8" direction="rtl" unicode-bidi="plaintext">21 بهمن</text>
<text x="1598.9" y="768.8" direction="rtl" unicode-bidi="plaintext">02 اسفند</text>
</g>
<text x="17.6" y="27.7" font-family="Liberation Sans, DejaVu Sans, sans-serif" font-size="12" fill="#131722" textLength="74.8" lengthAdjust="spacingAndGlyphs">وصندوق, بورس</text>
<text x="98.7" y="27.7" font-family="Liberation Sans, DejaVu Sans, sans-serif" font-size="12" fill="#131722" >باز</text>
<text x="110.6" y="27.7" font-family="Liberation Sans, DejaVu Sans, sans-serif" font-size="12" fill="#f23645" >17,890</text>
<text x="153.2" y="27.7" font-family="Liberation Sans, DejaVu Sans, sans-serif" font-size="12" fill="#131722" >بیشترین</text>
<text x="194.4" y="27.7" font-family="Liberation Sans, DejaVu Sans, sans-serif" font-size="12" fill="#f23645" >18,000</text>
<text x="236.7" y="27.7" font-family="Liberation Sans, DejaVu Sans, sans-serif" font-size="12" fill="#131722" >کمترین</text>
<text x="271.6" y="27.7" font-family="Liberation Sans, DejaVu Sans, sans-serif" font-size="12" fill="#f23645" >17,850</text>
<text x="314.7" y="27.7" font-family="Liberation Sans, DejaVu Sans, sans-serif" font-size="12" fill="#131722" >آخرین</text>
<text x="344.3" y="27.7" font-family="Liberation Sans, DejaVu Sans, sans-serif" font-size="12" fill="#f23645" >17,850</text>
<text x="17.2" y="44.6" font-family="Liberation Sans, DejaVu Sans, sans-serif" font-size="12" fill="#131722" textLength="26.2" lengthAdjust="spacingAndGlyphs">حجم</text>
<text x="50.6" y="44.6" font-family="Liberation Sans, DejaVu Sans, sans-serif" font-size="12" fill="#f7525f" >766.371K</text>
<text x="18.7" y="62.3" font-family="Liberation Sans, DejaVu Sans, sans-serif" font-size="12" fill="#131722" >MA</text>
<text x="43.7" y="62.3" font-family="Liberation Sans, DejaVu Sans, sans-serif" font-size="12" fill="#2196f3" >21,845</text>
<text x="18.7" y="79.0" font-family="Liberation Sans, DejaVu Sans, sans-serif" font-size="12" fill="#131722" >Ichimoku</text>
<text x="74.6" y="79.0" font-family="Liberation Sans, DejaVu Sans, sans-serif" font-size="12" fill="#a5d6a7" >20,630</text>
<text x="117.6" y="79.0" font-family="Liberation Sans, DejaVu Sans, sans-serif" font-size="12" fill="#faa1a4" >21,255</text>
</svg>
</body></html>
